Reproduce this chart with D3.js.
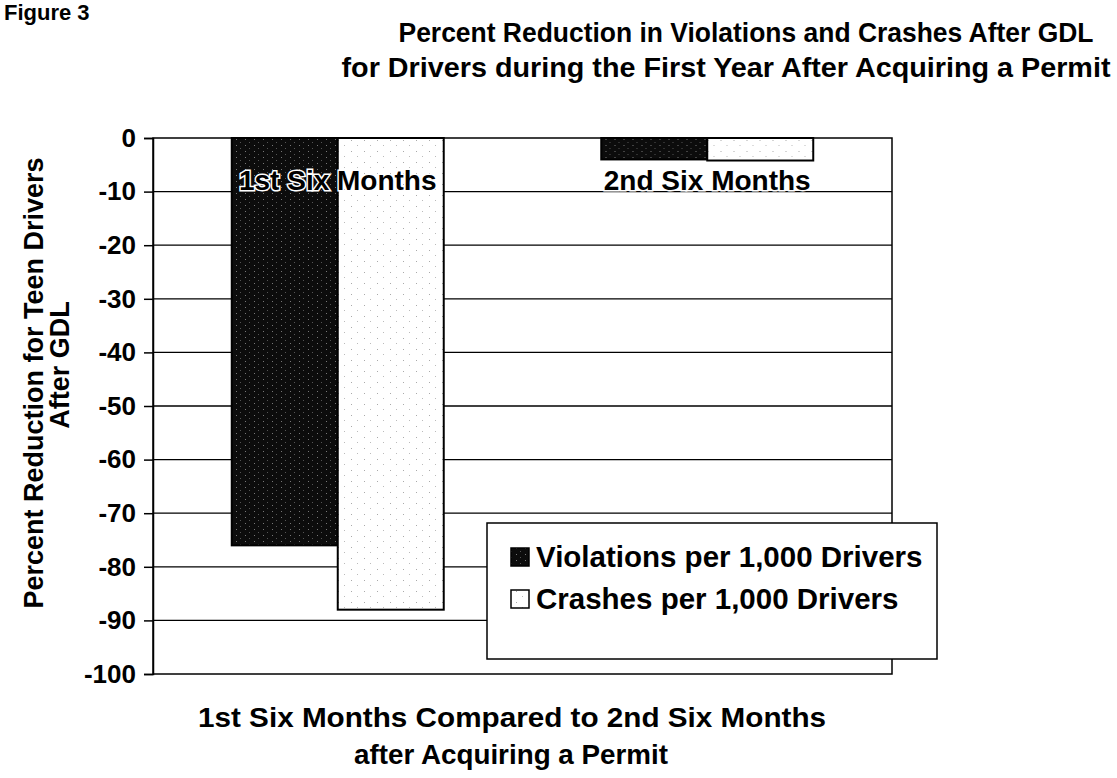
<!DOCTYPE html>
<html>
<head>
<meta charset="utf-8">
<script src="https://cdn.jsdelivr.net/npm/d3@7"></script>
<style>
  body { margin: 0; background: #fff; }
  svg { font-family: "Liberation Sans", Arial, sans-serif; font-weight: bold; }
  .axis text { font-size: 26px; font-weight: bold; fill: #000; }
  .axis path, .axis line { stroke: #000; stroke-width: 1.5; }
</style>
</head>
<body>
<svg id="chart" width="1117" height="778"></svg>
<script>
// data
const categories = ["1st Six Months", "2nd Six Months"];
const seriesNames = ["Violations per 1,000 Drivers", "Crashes per 1,000 Drivers"];
const violations = [-76, -4];
const crashes = [-88, -4.2];
const yTicks = [0, -10, -20, -30, -40, -50, -60, -70, -80, -90, -100];

const svg = d3.select("#chart");
const margin = {top: 138, right: 225, bottom: 104, left: 153};
const width = +svg.attr("width") - margin.left - margin.right;
const height = +svg.attr("height") - margin.top - margin.bottom;

// halftone-ish fills like the scanned original
const defs = svg.append("defs");
const dark = defs.append("pattern").attr("id", "darkTex")
	.attr("width", 9).attr("height", 6).attr("patternUnits", "userSpaceOnUse");
dark.append("rect").attr("width", 9).attr("height", 6).attr("fill", "#0c0c0c");
dark.append("rect").attr("x", 2).attr("y", 1).attr("width", 1).attr("height", 1).attr("fill", "#777");
dark.append("rect").attr("x", 6).attr("y", 4).attr("width", 1).attr("height", 1).attr("fill", "#555");
const light = defs.append("pattern").attr("id", "lightTex")
	.attr("width", 13).attr("height", 11).attr("patternUnits", "userSpaceOnUse");
light.append("rect").attr("width", 13).attr("height", 11).attr("fill", "#fff");
light.append("rect").attr("x", 3).attr("y", 2).attr("width", 1).attr("height", 1).attr("fill", "#aaa");
light.append("rect").attr("x", 9).attr("y", 7).attr("width", 1).attr("height", 1).attr("fill", "#bbb");

const fills = ["url(#darkTex)", "url(#lightTex)"];

const g = svg.append("g").attr("transform", "translate(" + margin.left + "," + margin.top + ")");

const x0 = d3.scaleBand().domain(categories).range([0, width]).padding(0);
const x1 = d3.scaleBand().domain(seriesNames).range([0, x0.bandwidth()])
	.paddingInner(0).paddingOuter(0.743);
const y = d3.scaleLinear().domain([0, -100]).range([0, height]);

// gridlines
g.append("g")
	.selectAll("line")
	.data(yTicks.slice(1, -1))
	.join("line")
	.attr("x1", 0).attr("x2", width)
	.attr("y1", d => y(d)).attr("y2", d => y(d))
	.attr("stroke", "#000").attr("stroke-width", 1.3);

// frame
g.append("rect")
	.attr("width", width).attr("height", height)
	.attr("fill", "none").attr("stroke", "#000").attr("stroke-width", 1.5);

const rows = categories.map((c, i) => ({cat: c, vals: [violations[i], crashes[i]]}));

const groups = g.selectAll(".grp")
	.data(rows)
	.join("g")
	.attr("class", "grp")
	.attr("transform", d => "translate(" + x0(d.cat) + ",0)");

groups.selectAll("rect")
	.data(d => d.vals.map((v, j) => ({name: seriesNames[j], v: v, j: j})))
	.join("rect")
	.attr("x", d => x1(d.name))
	.attr("y", y(0))
	.attr("width", x1.bandwidth())
	.attr("height", d => y(d.v) - y(0))
	.attr("fill", d => fills[d.j])
	.attr("stroke", "#000")
	.attr("stroke-width", 2);

// category labels inside the plot
g.selectAll(".catLabel")
	.data(categories)
	.join("text")
	.attr("class", "catLabel")
	.attr("x", d => x0(d) + x0.bandwidth() / 2)
	.attr("y", y(-10) - 2)
	.attr("text-anchor", "middle")
	.style("font-size", "28px")
	.style("paint-order", "stroke")
	.attr("stroke", "#fff")
	.attr("stroke-width", 3)
	.attr("fill", "#000")
	.text(d => d);

// y axis
g.append("g")
	.attr("class", "axis")
	.call(d3.axisLeft(y).tickValues(yTicks).tickSize(9).tickPadding(8).tickFormat(d => String(d)));

// legend
const legend = svg.append("g").attr("transform", "translate(487,523)");
legend.append("rect")
	.attr("width", 450).attr("height", 136)
	.attr("fill", "#fff").attr("stroke", "#000").attr("stroke-width", 1.5);
seriesNames.forEach((s, i) => {
	legend.append("rect")
		.attr("x", 24).attr("y", 25 + i * 42)
		.attr("width", 18).attr("height", 18)
		.attr("fill", fills[i]).attr("stroke", "#000").attr("stroke-width", 1.5);
	legend.append("text")
		.attr("x", 49).attr("y", 44 + i * 42)
		.style("font-size", "29.5px")
		.text(s);
});

// titles
svg.append("text").attr("x", 4).attr("y", 20).style("font-size", "22px").text("Figure 3");
svg.append("text").attr("x", 746).attr("y", 42).attr("text-anchor", "middle")
	.style("font-size", "27px").attr("textLength", 695).attr("lengthAdjust", "spacingAndGlyphs")
	.text("Percent Reduction in Violations and Crashes After GDL");
svg.append("text").attr("x", 726).attr("y", 77).attr("text-anchor", "middle")
	.style("font-size", "27px").attr("textLength", 769).attr("lengthAdjust", "spacingAndGlyphs")
	.text("for Drivers during the First Year After Acquiring a Permit");

svg.append("text")
	.attr("transform", "translate(43,383) rotate(-90)")
	.attr("text-anchor", "middle")
	.style("font-size", "27px")
	.text("Percent Reduction for Teen Drivers");
svg.append("text")
	.attr("transform", "translate(69,365) rotate(-90)")
	.attr("text-anchor", "middle")
	.style("font-size", "27px")
	.text("After GDL");

svg.append("text").attr("x", 512).attr("y", 727).attr("text-anchor", "middle")
	.style("font-size", "28px").attr("textLength", 628).attr("lengthAdjust", "spacingAndGlyphs")
	.text("1st Six Months Compared to 2nd Six Months");
svg.append("text").attr("x", 511).attr("y", 764).attr("text-anchor", "middle")
	.style("font-size", "28px").attr("textLength", 314).attr("lengthAdjust", "spacingAndGlyphs")
	.text("after Acquiring a Permit");
</script>
</body>
</html>
